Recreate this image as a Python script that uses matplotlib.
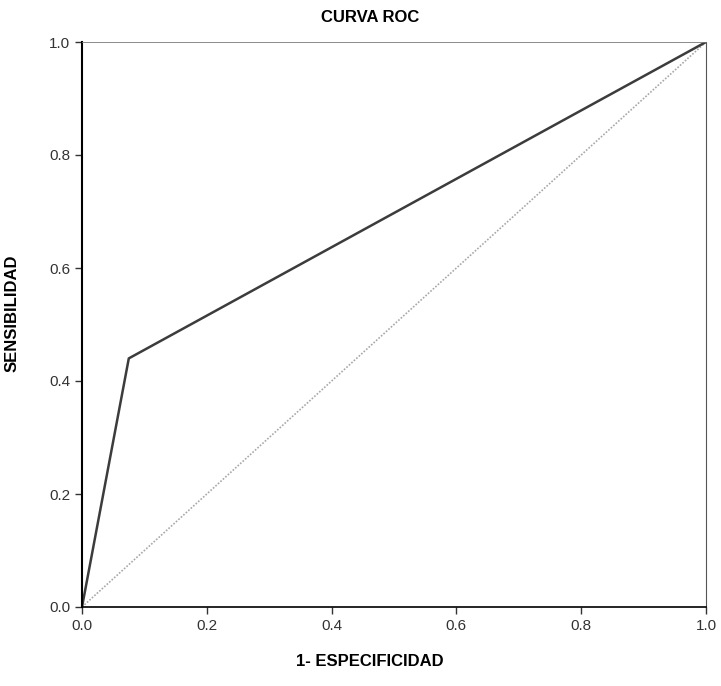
import matplotlib
matplotlib.use('Agg')
import matplotlib.pyplot as plt

plt.rcParams['font.family'] = ['Liberation Sans', 'DejaVu Sans']

# ROC curve points (1 - specificity, sensitivity)
fpr = [0.0, 0.075, 1.0]
tpr = [0.0, 0.44, 1.0]
# reference diagonal
diag_x = [0.0, 1.0]
diag_y = [0.0, 1.0]
ticks = [0.0, 0.2, 0.4, 0.6, 0.8, 1.0]
tick_labels = ['0.0', '0.2', '0.4', '0.6', '0.8', '1.0']

fig = plt.figure(figsize=(7.21, 6.86), dpi=100)
ax = fig.add_axes([82 / 721, 1 - 607 / 686, (706 - 82) / 721, (607 - 42) / 686])

ax.plot(diag_x, diag_y, color='#a8a8a8', linewidth=1.2, linestyle=(0, (1, 1)))
ax.plot(fpr, tpr, color='#3c3c3c', linewidth=1.8)

ax.set_xlim(0, 1)
ax.set_ylim(0, 1)
ax.set_xticks(ticks)
ax.set_xticklabels(tick_labels)
ax.set_yticks(ticks)
ax.set_yticklabels(tick_labels)
ax.tick_params(direction='out', length=5, width=1, labelsize=11, colors='#333333')

ax.spines['left'].set_linewidth(1.5)
ax.spines['bottom'].set_linewidth(1.2)
ax.spines['top'].set_linewidth(0.6)
ax.spines['top'].set_color('#777777')
ax.spines['top'].set_linestyle((0, (2, 1)))
ax.spines['right'].set_linewidth(0.8)
ax.spines['right'].set_color('#555555')

# SPSS-style centring of title and x label on the page
fig.text(370 / 721, 1 - 18 / 686, 'CURVA ROC', fontsize=12, fontweight='bold',
         ha='center', va='center')
fig.text(370 / 721, 1 - 662 / 686, '1- ESPECIFICIDAD', fontsize=12, fontweight='bold',
         ha='center', va='center')
ax.set_ylabel('SENSIBILIDAD', fontsize=12, fontweight='bold', labelpad=14)
ax.yaxis.set_label_coords(-0.1, 0.52)

fig.savefig('out.png', dpi=100, facecolor='white')
